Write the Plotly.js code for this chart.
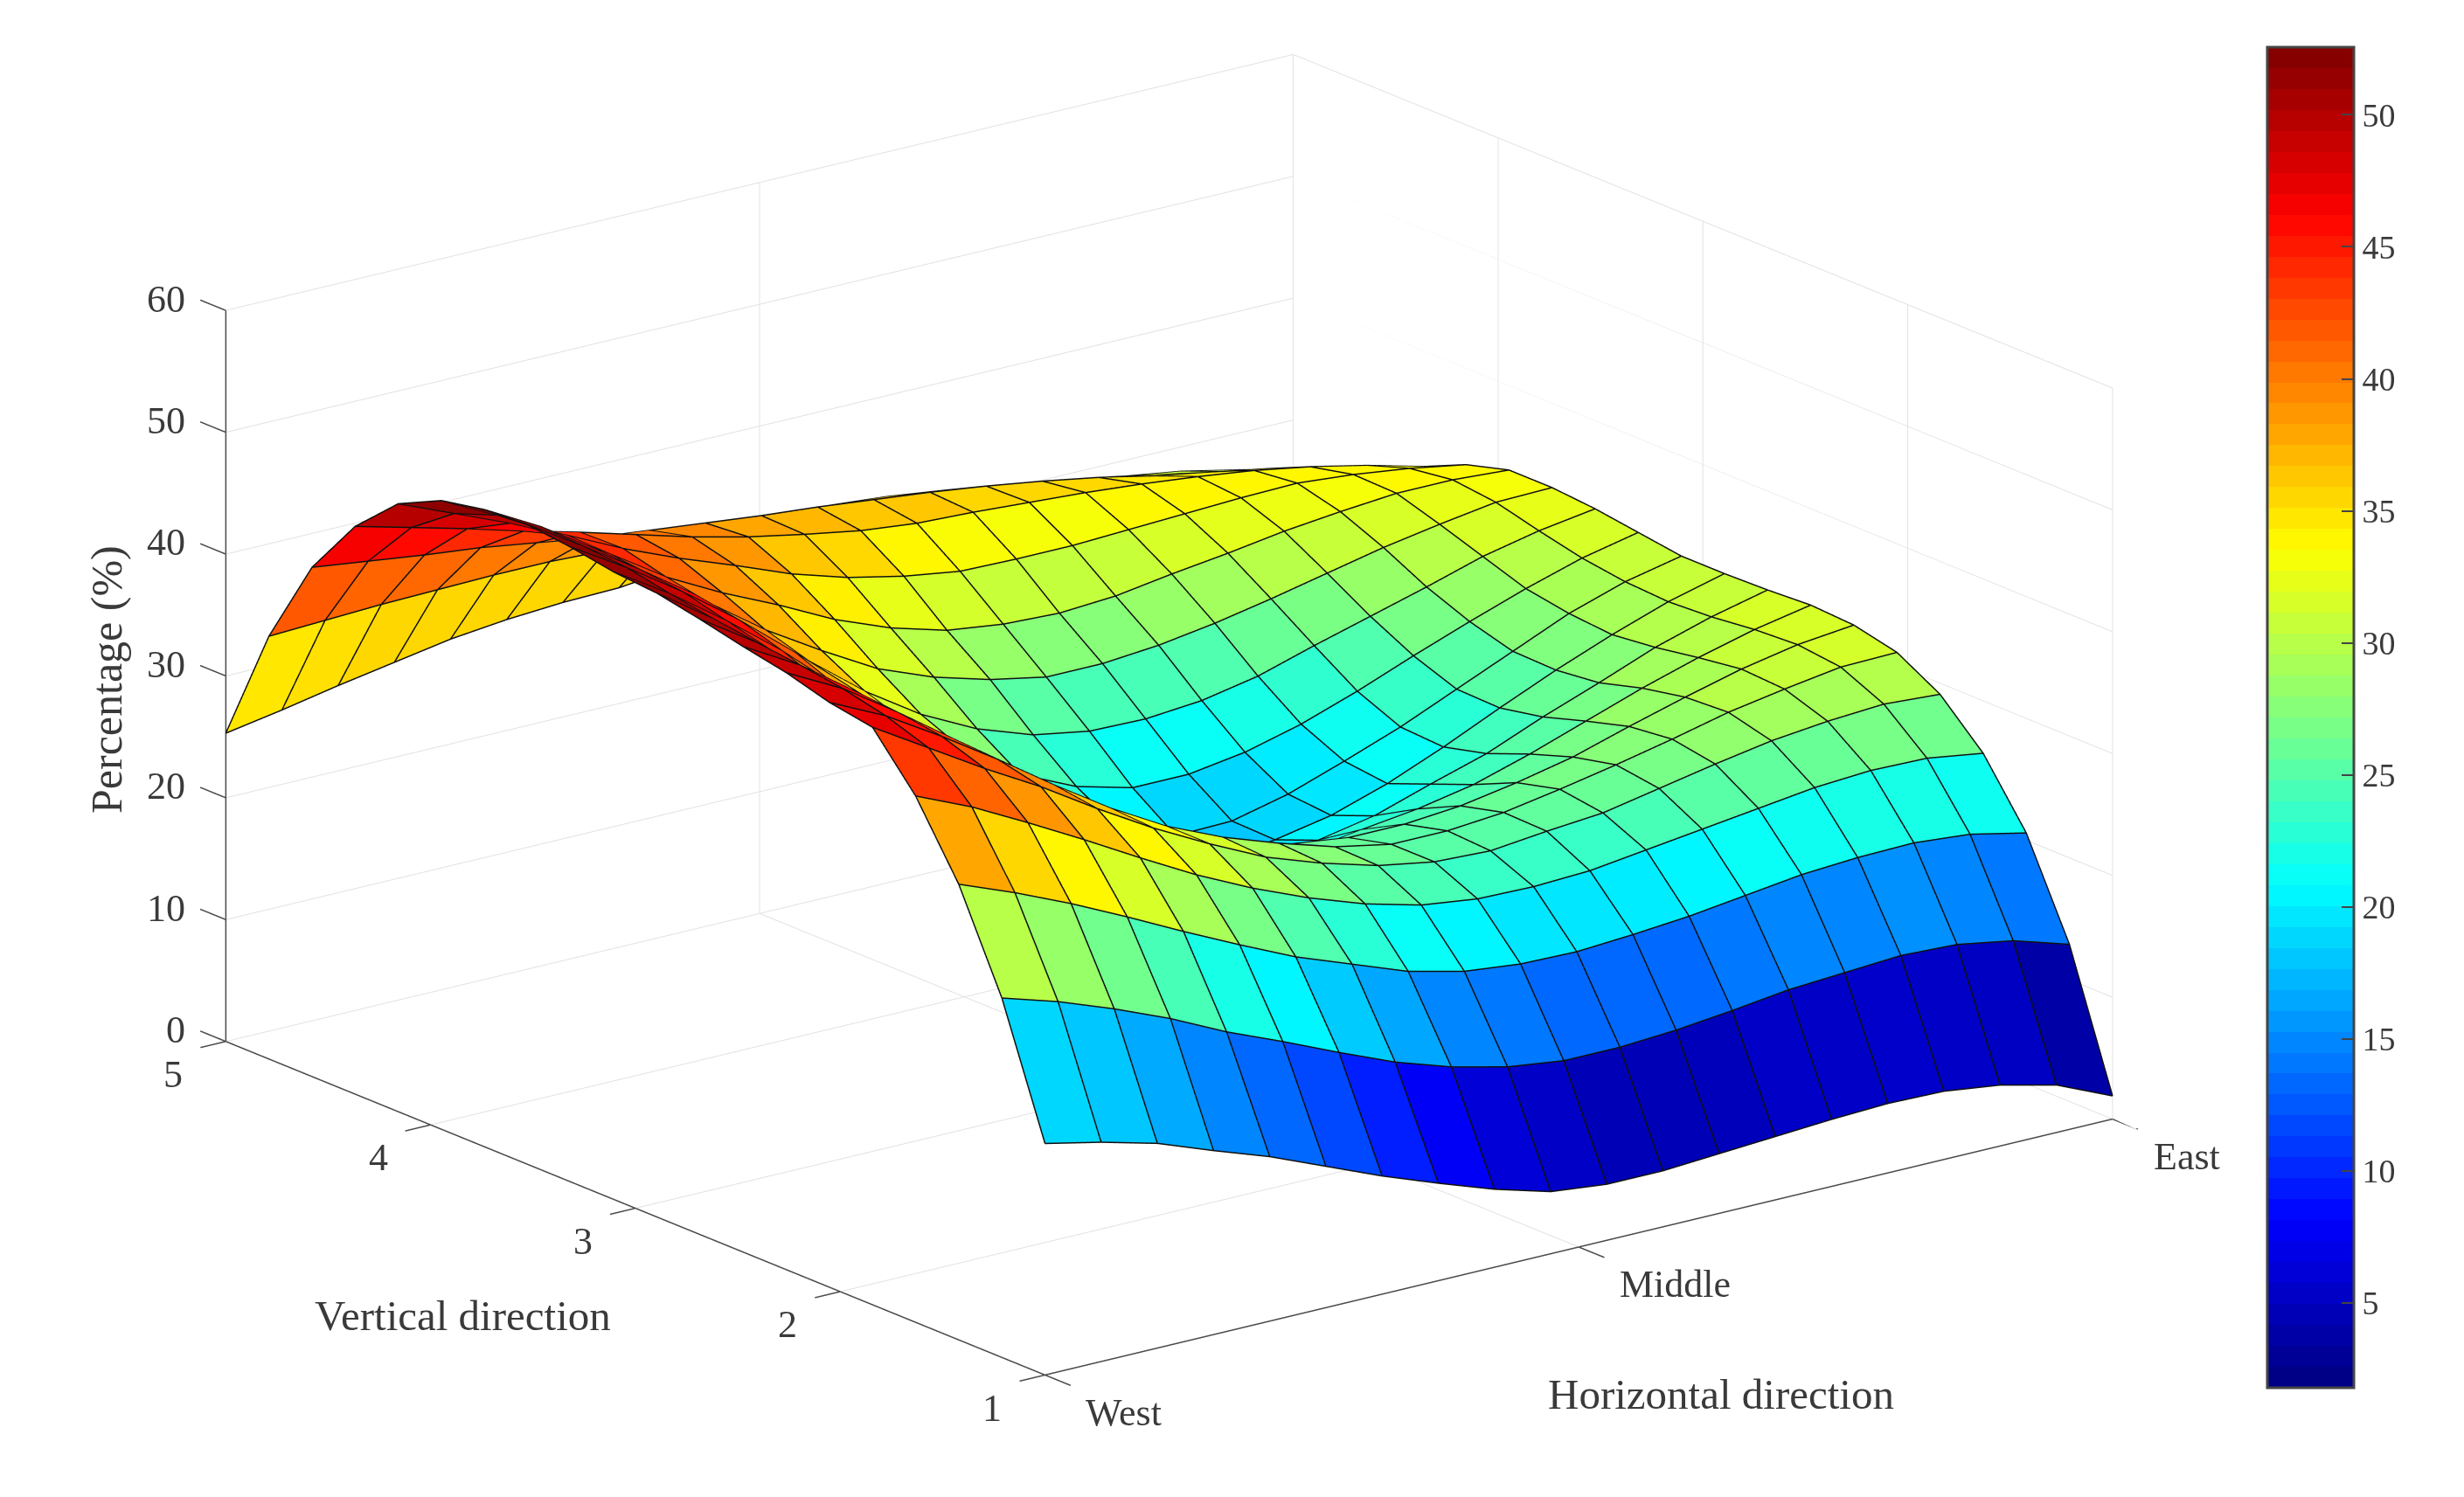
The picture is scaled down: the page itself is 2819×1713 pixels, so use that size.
<!DOCTYPE html>
<html><head><meta charset="utf-8">
<script src="https://cdn.plot.ly/plotly-3.0.1.min.js"></script>
<style>html,body{margin:0;padding:0;background:#fff}#c{width:2819px;height:1713px}</style>
</head><body><div id="c"></div>
<script>
const horizontalIndex=[1,2,3,4,5,6,7,8,9,10,11,12,13,14,15,16,17,18,19,20];
const verticalValues=[1,1.2105,1.4211,1.6316,1.8421,2.0526,2.2632,2.4737,2.6842,2.8947,3.1053,3.3158,3.5263,3.7368,3.9474,4.1579,4.3684,4.5789,4.7895,5];
const pct00=[19.0,18.0,16.8,15.1,13.5,11.6,9.7,8.0,6.4,5.1,4.6,4.6,4.9,5.2,5.5,5.7,5.6,5.0,3.9,1.9];
const pct01=[29.5,28.1,26.4,24.5,22.3,20.4,18.4,16.5,15.0,13.9,13.3,13.3,13.6,14.1,14.7,15.0,15.3,15.1,14.3,12.9];
const pct02=[37.4,35.6,33.6,31.4,29.1,26.9,24.8,23.1,21.4,20.3,19.8,19.7,20.0,20.4,21.0,21.6,21.9,22.0,21.6,20.6];
const pct03=[43.2,41.2,38.8,36.3,33.7,31.2,29.0,27.1,25.5,24.3,23.7,23.6,23.8,24.4,25.0,25.6,26.2,26.5,26.4,25.7];
const pct04=[47.4,44.6,41.8,39.2,36.3,33.6,31.2,29.0,27.4,26.1,25.3,25.1,25.6,26.0,26.9,27.8,28.6,29.1,29.4,29.1];
const pct05=[48.0,45.8,43.0,40.0,36.8,33.8,31.2,29.2,27.6,26.2,25.3,25.3,25.7,26.5,27.4,28.4,29.5,30.3,31.0,31.1];
const pct06=[49.0,46.6,43.5,40.2,36.5,33.1,30.2,28.0,26.2,25.0,24.4,24.4,24.8,25.6,26.6,28.0,29.3,30.5,31.4,31.9];
const pct07=[49.7,47.1,43.8,40.0,36.2,32.4,29.0,26.2,24.0,22.4,21.8,22.5,23.1,24.0,25.4,27.0,28.6,30.0,31.2,32.1];
const pct08=[50.5,47.5,44.0,40.0,36.0,31.8,28.0,24.8,22.2,20.2,19.4,20.2,21.1,22.6,24.0,25.9,27.6,29.4,30.8,31.9];
const pct09=[51.2,48.0,44.4,40.3,36.0,31.7,27.6,24.0,21.0,19.0,18.2,18.8,19.7,21.2,23.1,25.2,27.2,29.0,30.6,31.8];
const pct10=[51.5,48.6,45.3,41.7,37.6,33.4,29.3,25.6,22.6,20.5,18.8,18.9,20.0,21.6,23.3,25.3,27.3,29.3,30.8,31.8];
const pct11=[52.1,49.3,46.2,42.8,39.0,35.0,31.0,27.7,24.6,22.5,21.3,21.3,22.0,23.2,24.8,26.6,28.3,29.9,31.3,32.3];
const pct12=[52.5,49.6,46.6,43.4,39.5,35.8,32.2,29.2,26.9,25.3,24.5,24.4,24.8,25.7,27.1,28.4,29.7,31.1,32.1,32.8];
const pct13=[52.3,49.8,46.8,43.5,40.2,36.9,34.1,31.5,29.7,28.4,27.5,27.5,27.9,28.6,29.5,30.5,31.5,32.3,33.0,33.1];
const pct14=[51.6,49.3,46.7,43.9,40.9,38.5,36.4,34.1,32.3,31.0,30.4,30.2,30.5,31.2,31.8,32.5,33.0,33.4,33.4,33.1];
const pct15=[49.9,48.0,46.1,44.0,41.8,39.9,38.2,36.4,35.0,34.0,33.3,33.2,33.2,33.4,33.6,33.8,33.9,33.5,32.9,32.1];
const pct16=[46.6,45.4,44.2,42.9,41.7,40.4,39.1,38.0,37.1,36.3,35.8,35.6,35.3,35.0,34.6,34.1,33.5,32.7,31.7,30.5];
const pct17=[41.8,41.2,40.6,40.1,39.4,38.7,38.2,37.7,37.2,36.8,36.3,35.8,35.2,34.5,33.7,32.7,31.9,31.1,30.1,29.0];
const pct18=[34.7,34.9,35.1,35.2,35.3,35.3,35.1,35.0,34.8,34.6,34.4,34.0,33.4,32.6,32.0,31.2,30.3,29.4,28.4,27.3];
const pct19=[25.3,26.1,27.0,27.8,28.6,29.1,29.4,29.5,30.0,30.4,30.8,31.0,31.0,30.8,30.0,29.4,28.7,28.0,27.0,26.0];
const percentRows=[pct00,pct01,pct02,pct03,pct04,pct05,pct06,pct07,pct08,pct09,pct10,pct11,pct12,pct13,pct14,pct15,pct16,pct17,pct18,pct19];

const zTicks=[0,10,20,30,40,50,60];
const verticalTicks=[1,2,3,4,5];
const horizontalTickVals=[1,10.5,20];
const horizontalTickText=['West','Middle','East'];
const colorTicks=[5,10,15,20,25,30,35,40,45,50];
const colorMin=1.79, colorMax=52.56;

const FONT='"Liberation Serif","Times New Roman",serif';
const INK='#3a3a3a', GRID='#e2e2e2';
const xLo=1, xHi=20, yLo=1, yHi=5, zLo=0, zHi=60;
const xTick=0.47, yTick=0.13;
const K=1.874, Z_ASPECT=0.572;
const viewDir={x:-0.5783,y:-0.7536,z:0.3125};

function jet(t){const c=v=>Math.round(255*Math.max(0,Math.min(1,v)));
  const r=1.5-Math.abs(4*t-3),g=1.5-Math.abs(4*t-2),b=1.5-Math.abs(4*t-1);
  return `rgb(${c(r)},${c(g)},${c(b)})`;}
const jetScale=[];
for(let k=0;k<64;k++){const col=jet((k+0.5)/64);jetScale.push([k/64,col]);jetScale.push([(k+1)/64,col]);}

// mesh
const mx=[],my=[],mz=[],fi=[],fj=[],fk=[],fv=[];
const nx=horizontalIndex.length,ny=verticalValues.length;
percentRows.forEach((row,j)=>row.forEach((v,i)=>{mx.push(horizontalIndex[i]);my.push(verticalValues[j]);mz.push(v);}));
for(let j=0;j<ny-1;j++)for(let i=0;i<nx-1;i++){
  const a=j*nx+i,b=a+1,c=a+nx,d=c+1,v=percentRows[j][i];
  fi.push(a,a);fj.push(b,d);fk.push(d,c);fv.push(v,v);
}
// wireframe, nudged along the view direction only so the depth test keeps it above its own faces
const E=0.006;
const dX=E*viewDir.x*(xHi-xLo)/K, dY=E*viewDir.y*(yHi-yLo)/K, dZ=E*viewDir.z*(zHi-zLo)/(K*Z_ASPECT);
const wx=[],wy=[],wz=[];
const wirePoint=(i,j)=>{wx.push(horizontalIndex[i]+dX);wy.push(verticalValues[j]+dY);wz.push(percentRows[j][i]+dZ);};
const wireBreak=()=>{wx.push(null);wy.push(null);wz.push(null);};
for(let j=0;j<ny;j++){for(let i=0;i<nx;i++)wirePoint(i,j);wireBreak();}
for(let i=0;i<nx;i++){for(let j=0;j<ny;j++)wirePoint(i,j);wireBreak();}
// grid (skipping the lines that coincide with the dark axes) + axes
const gx=[],gy=[],gz=[],ax=[],ay=[],az=[];
const seg=(X,Y,Z,p,q)=>{X.push(p[0],q[0],null);Y.push(p[1],q[1],null);Z.push(p[2],q[2],null);};
const G=(p,q)=>seg(gx,gy,gz,p,q), A=(p,q)=>seg(ax,ay,az,p,q);
zTicks.forEach(z=>{G([xLo,yHi,z],[xHi,yHi,z]);G([xHi,yHi,z],[xHi,yLo,z]);});
horizontalTickVals.forEach(x=>{if(x!==xLo){G([x,yHi,zLo],[x,yHi,zHi]);G([x,yLo,zLo],[x,yHi,zLo]);}});
verticalTicks.forEach(y=>{G([xHi,y,zLo],[xHi,y,zHi]);if(y!==yLo)G([xLo,y,zLo],[xHi,y,zLo]);});
A([xLo,yHi,zLo],[xLo,yHi,zHi]);A([xLo,yLo,zLo],[xLo,yHi,zLo]);A([xLo,yLo,zLo],[xHi,yLo,zLo]);
zTicks.forEach(z=>A([xLo,yHi,z],[xLo,yHi+yTick*0.96,z]));
verticalTicks.forEach(y=>A([xLo,y,zLo],[xLo-xTick*0.96,y,zLo]));
horizontalTickVals.forEach(x=>A([x,yLo,zLo],[x,yLo-yTick*0.96,zLo]));

const tickFont={family:FONT,size:44,color:INK};
const sceneNotes=[];
zTicks.forEach(z=>sceneNotes.push({x:xLo,y:yHi,z:z,text:String(z),showarrow:false,xanchor:'right',yanchor:'middle',xshift:-44,yshift:13,font:tickFont}));
verticalTicks.forEach(y=>sceneNotes.push({x:xLo,y:y,z:zLo,text:String(y),showarrow:false,xanchor:'center',yanchor:'middle',xshift:-60,yshift:-38,font:tickFont}));
horizontalTickVals.forEach((x,n)=>sceneNotes.push({x:x,y:yLo,z:zLo,text:horizontalTickText[n],showarrow:false,xanchor:'left',yanchor:'middle',xshift:45,yshift:-43,font:tickFont}));

const traces=[
 {type:'scatter3d',mode:'lines',x:gx,y:gy,z:gz,line:{color:GRID,width:2},hoverinfo:'skip',showlegend:false},
 {type:'scatter3d',mode:'lines',x:ax,y:ay,z:az,line:{color:'#4a4a4a',width:3},hoverinfo:'skip',showlegend:false},
 {type:'mesh3d',x:mx,y:my,z:mz,i:fi,j:fj,k:fk,intensity:fv,intensitymode:'cell',colorscale:jetScale,cmin:colorMin,cmax:colorMax,
  flatshading:true,lighting:{ambient:1,diffuse:0,specular:0,roughness:1,fresnel:0},hoverinfo:'skip',
  colorbar:{x:2594/2819,xanchor:'left',xpad:0,ypad:0,y:(1713-54)/1713,yanchor:'top',len:1534,lenmode:'pixels',thickness:99,thicknessmode:'pixels',
   tickvals:colorTicks,ticks:'inside',ticklen:15,tickwidth:2,tickcolor:'#444444',outlinecolor:'#444444',outlinewidth:3,
   tickfont:{family:FONT,size:38,color:INK}}},
 {type:'scatter3d',mode:'lines',x:wx,y:wy,z:wz,line:{color:'#101010',width:3},connectgaps:false,hoverinfo:'skip',showlegend:false}
];

const hidden={visible:false,showspikes:false,autorange:false};
const R=3;
const layout={width:2819,height:1713,margin:{l:0,r:0,t:0,b:0},paper_bgcolor:'#fff',showlegend:false,
 scene:{domain:{x:[0,2644.8/2819],y:[70.2/1713,1]},
  xaxis:Object.assign({range:[xLo-xTick,xHi]},hidden),
  yaxis:Object.assign({range:[yLo-yTick,yHi+yTick]},hidden),
  zaxis:Object.assign({range:[zLo,zHi]},hidden),
  aspectmode:'manual',aspectratio:{x:K*(xHi-xLo+xTick)/(xHi-xLo),y:K*(yHi-yLo+2*yTick)/(yHi-yLo),z:K*Z_ASPECT},
  camera:{projection:{type:'orthographic'},up:{x:0,y:0,z:1},center:{x:0,y:0,z:0},eye:{x:viewDir.x*R,y:viewDir.y*R,z:viewDir.z*R}},
  annotations:sceneNotes},
 annotations:[
  {xref:'paper',yref:'paper',x:529/2819,y:1-1505/1713,xanchor:'center',yanchor:'middle',text:'Vertical direction',showarrow:false,font:{family:FONT,size:49,color:INK}},
  {xref:'paper',yref:'paper',x:1969/2819,y:1-1595/1713,xanchor:'center',yanchor:'middle',text:'Horizontal direction',showarrow:false,font:{family:FONT,size:49,color:INK}},
  {xref:'paper',yref:'paper',x:122/2819,y:1-778/1713,xanchor:'center',yanchor:'middle',text:'Percentage (%)',textangle:-90,showarrow:false,font:{family:FONT,size:50,color:INK}}
 ]};
Plotly.newPlot('c',traces,layout,{displayModeBar:false,responsive:false});
</script></body></html>
